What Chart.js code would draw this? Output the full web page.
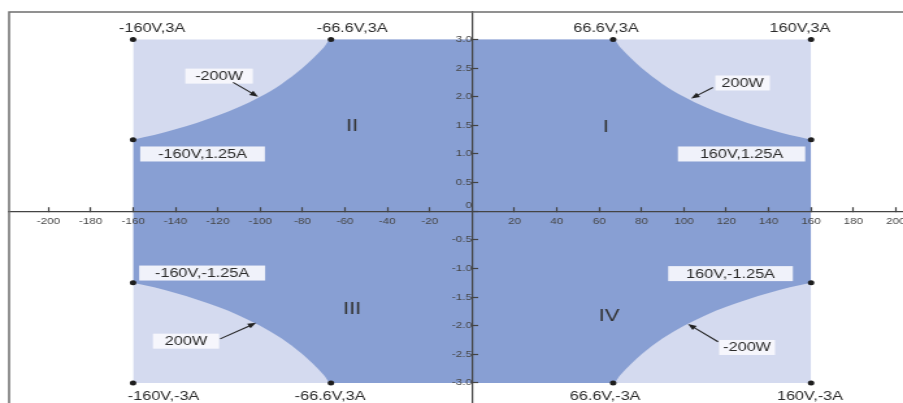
<!DOCTYPE html>
<html>
<head>
<meta charset="utf-8">
<script src="https://cdn.jsdelivr.net/npm/chart.js@4/dist/chart.umd.min.js"></script>
<style>
  html, body { margin: 0; padding: 0; background: #fff; overflow: hidden; }
</style>
</head>
<body>
<!-- the source picture is stretched sideways, so the canvas is too -->
<canvas id="plot" width="695" height="403" style="width:903px;height:403px;display:block"></canvas>
<script>
// tick values
const xTickValues = [-200, -180, -160, -140, -120, -100, -80, -60, -40, -20, 20, 40, 60, 80, 100, 120, 140, 160, 180, 200];
const yTickValues = [-3, -2.5, -2, -1.5, -1, -0.5, 0, 0.5, 1, 1.5, 2, 2.5, 3];

// outer limits (160 V, 3 A)
const boxV = [-160, 160];
const boxI = [3, 3];
const boxFloor = -3;

// 200 W boundary
const limitV = [-160, -150, -140, -130, -120, -110, -100, -90, -80, -75, -70, -66.6, 66.6, 70, 75, 80, 90, 100, 110, 120, 130, 140, 150, 160];
const upperI = [1.25, 1.33, 1.43, 1.54, 1.67, 1.82, 2.0, 2.22, 2.5, 2.67, 2.86, 3.0, 3.0, 2.86, 2.67, 2.5, 2.22, 2.0, 1.82, 1.67, 1.54, 1.43, 1.33, 1.25];
const lowerI = [-1.25, -1.33, -1.43, -1.54, -1.67, -1.82, -2.0, -2.22, -2.5, -2.67, -2.86, -3.0, -3.0, -2.86, -2.67, -2.5, -2.22, -2.0, -1.82, -1.67, -1.54, -1.43, -1.33, -1.25];

// marked corner points
const cornerV = [-160, -66.6, 66.6, 160, -160, 160, -160, 160, -160, -66.6, 66.6, 160];
const cornerI = [3, 3, 3, 3, 1.25, 1.25, -1.25, -1.25, -3, -3, -3, -3];

// plain labels
const plainText = ['-160V,3A', '-66.6V,3A', '66.6V,3A', '160V,3A', '-160V,-3A', '-66.6V,3A', '66.6V,-3A', '160V,-3A'];
const plainV = [-151, -56.6, 63.2, 154.8, -145.6, -67, 62.8, 159.5];
const plainI = [3.19, 3.19, 3.19, 3.19, -3.23, -3.23, -3.23, -3.23];

// boxed labels
const boxText = ['-200W', '200W', '-160V,1.25A', '160V,1.25A', '-160V,-1.25A', '160V,-1.25A', '200W', '-200W'];
const boxTextV = [-119.4, 127.7, -127.2, 127.2, -127.4, 122, -135, 129.8];
const boxTextI = [2.36, 2.24, 1.0, 1.0, -1.08, -1.09, -2.27, -2.38];
const boxWidth = [52, 42, 96, 98, 97, 96, 51, 43];

// arrows from the power labels to the curve
const arrowFrom = [[-112.8, 2.25], [113.7, 2.16], [-118.9, -2.23], [116.1, -2.28]];
const arrowTo = [[-101, 2.0], [103.4, 1.97], [-101.9, -1.95], [101.9, -1.97]];

// quadrant numerals
const quadText = ['I', 'II', 'III', 'IV'];
const quadV = [63.2, -56.6, -56.6, 64.7];
const quadI = [1.46, 1.48, -1.71, -1.83];

const FONT = '"Liberation Sans", Arial, Helvetica, sans-serif';
Chart.defaults.font.family = FONT;

const pts = (xs, ys) => xs.map((v, k) => ({ x: v, y: ys[k] }));

const notesPlugin = {
  id: 'notes',
  afterDraw(chart) {
    const { ctx, chartArea, scales: { x, y } } = chart;
    ctx.save();

    // frame on top and left
    ctx.strokeStyle = '#6e6e6e';
    ctx.lineWidth = 1.5;
    ctx.beginPath();
    ctx.moveTo(chartArea.left, chartArea.bottom);
    ctx.lineTo(chartArea.left, chartArea.top);
    ctx.lineTo(chartArea.right, chartArea.top);
    ctx.stroke();

    ctx.textAlign = 'center';
    ctx.textBaseline = 'middle';
    ctx.font = '12.5px ' + FONT;

    plainText.forEach((t, k) => {
      ctx.fillStyle = '#2b2b2b';
      ctx.fillText(t, x.getPixelForValue(plainV[k]), y.getPixelForValue(plainI[k]));
    });

    boxText.forEach((t, k) => {
      const cx = x.getPixelForValue(boxTextV[k]);
      const cy = y.getPixelForValue(boxTextI[k]);
      ctx.fillStyle = 'rgba(248,249,253,0.92)';
      ctx.fillRect(cx - boxWidth[k] / 2, cy - 7.5, boxWidth[k], 15);
      ctx.fillStyle = '#2b2b2b';
      ctx.fillText(t, cx, cy + 0.5);
    });

    // arrows
    ctx.strokeStyle = '#222';
    ctx.fillStyle = '#222';
    ctx.lineWidth = 1.1;
    arrowFrom.forEach((a, k) => {
      const x1 = x.getPixelForValue(a[0]), y1 = y.getPixelForValue(a[1]);
      const x2 = x.getPixelForValue(arrowTo[k][0]), y2 = y.getPixelForValue(arrowTo[k][1]);
      const ang = Math.atan2(y2 - y1, x2 - x1);
      const head = 7;
      ctx.beginPath();
      ctx.moveTo(x1, y1);
      ctx.lineTo(x2 - Math.cos(ang) * head * 0.8, y2 - Math.sin(ang) * head * 0.8);
      ctx.stroke();
      ctx.beginPath();
      ctx.moveTo(x2, y2);
      ctx.lineTo(x2 - head * Math.cos(ang - 0.38), y2 - head * Math.sin(ang - 0.38));
      ctx.lineTo(x2 - head * Math.cos(ang + 0.38), y2 - head * Math.sin(ang + 0.38));
      ctx.closePath();
      ctx.fill();
    });

    ctx.font = '17px ' + FONT;
    ctx.fillStyle = '#333';
    quadText.forEach((t, k) => {
      ctx.fillText(t, x.getPixelForValue(quadV[k]), y.getPixelForValue(quadI[k]));
    });

    ctx.restore();
  }
};

// centred axes: keep them from claiming margins round the plot
const noMargins = s => {
  s.paddingLeft = 0;
  s.paddingRight = 0;
  s.paddingTop = 0;
  s.paddingBottom = 0;
};

const axisLine = {
  grid: { drawOnChartArea: false, drawTicks: true, tickLength: -5, tickColor: '#444', tickWidth: 1.2, z: 1 },
  border: { display: true, color: '#444', width: 1.2, z: 1 }
};

new Chart(document.getElementById('plot').getContext('2d'), {
  type: 'scatter',
  data: {
    datasets: [
      {
        label: 'limits',
        data: pts(boxV, boxI),
        showLine: true,
        fill: { value: boxFloor },
        backgroundColor: '#d4daef',
        borderWidth: 0,
        pointRadius: 0,
        order: 3
      },
      {
        label: '200W upper',
        data: pts(limitV, upperI),
        showLine: true,
        cubicInterpolationMode: 'monotone',
        fill: '+1',
        backgroundColor: '#889fd3',
        borderWidth: 0,
        pointRadius: 0,
        order: 2
      },
      {
        label: '200W lower',
        data: pts(limitV, lowerI),
        showLine: true,
        cubicInterpolationMode: 'monotone',
        fill: false,
        borderWidth: 0,
        pointRadius: 0,
        order: 1
      },
      {
        label: 'corners',
        data: pts(cornerV, cornerI),
        showLine: false,
        pointRadius: 2.5,
        pointBackgroundColor: '#1e1e1e',
        pointBorderWidth: 0,
        order: 0
      }
    ]
  },
  options: {
    responsive: false,
    animation: false,
    layout: { autoPadding: false, padding: { left: 7, top: 12, right: 0, bottom: 0 } },
    plugins: { legend: { display: false }, tooltip: { enabled: false } },
    scales: {
      x: {
        type: 'linear',
        min: -218.5,
        max: 203.4,
        position: { y: 0 },
        afterBuildTicks: s => { s.ticks = xTickValues.map(v => ({ value: v })); },
        afterFit: noMargins,
        ...axisLine,
        ticks: { autoSkip: false, maxRotation: 0, padding: 10, color: '#474747', font: { size: 9 }, z: 1 }
      },
      y: {
        type: 'linear',
        min: -3.35,
        max: 3.48,
        position: { x: 0 },
        afterBuildTicks: s => { s.ticks = yTickValues.map(v => ({ value: v })); },
        afterFit: noMargins,
        ...axisLine,
        ticks: {
          autoSkip: false,
          padding: 9,
          color: '#474747',
          font: { size: 9 },
          z: 1,
          callback: v => (v === 0 ? ['0', ''] : v.toFixed(1))
        }
      }
    }
  },
  plugins: [notesPlugin]
});
</script>
</body>
</html>
